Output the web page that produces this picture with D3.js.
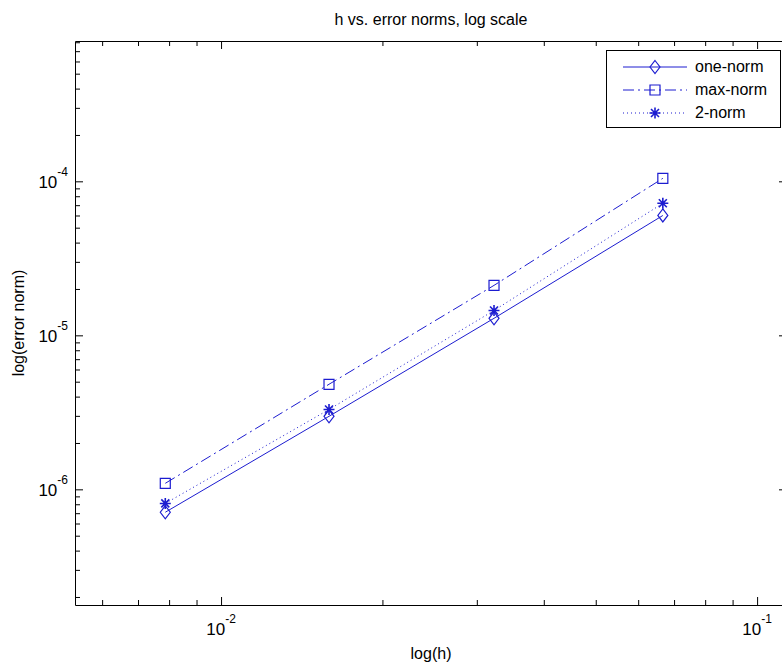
<!DOCTYPE html>
<html>
<head>
<meta charset="utf-8">
<script src="https://cdn.jsdelivr.net/npm/d3@7"></script>
<style>
  body { margin: 0; background: #fff; }
  text { font-family: "Liberation Sans", Arial, sans-serif; fill: #000; }
</style>
</head>
<body>
<div id="chart"></div>
<script>
// data
var hValues = [0.00787, 0.0159, 0.0323, 0.0667]
var oneNorm = [7.1e-7, 2.98e-6, 1.29e-5, 6.0e-5]
var maxNorm = [1.094e-6, 4.81e-6, 2.11e-5, 1.046e-4]
var twoNorm = [8.1e-7, 3.30e-6, 1.45e-5, 7.2e-5]
var seriesNames = ["one-norm", "max-norm", "2-norm"]
var xLimits = [5.34e-3, 0.1137]
var yLimits = [1.774e-7, 8.15e-4]

var width = 782,
    height = 664
// plot box edges (window.top is reserved, so use other names)
var boxL = 75, boxR = 787, boxT = 41, boxB = 605
var blue = "#1c1cd0"

var svg = d3.select("#chart")
  .append("svg")
    .attr("width", width)
    .attr("height", height)

var x = d3.scaleLog().domain(xLimits).range([boxL, boxR])
var y = d3.scaleLog().domain(yLimits).range([boxB, boxT])

var isMajor = d => Math.abs(Math.log10(d) - Math.round(Math.log10(d))) < 1e-9

// axes: ticks pointing inwards on all four sides
function styleAxis(g, horizontal, sign) {
  g.selectAll("text").remove()
  g.select(".domain").attr("stroke", "#000").attr("stroke-width", 1)
  g.selectAll(".tick line")
    .attr("stroke", "#000")
    .attr(horizontal ? "y2" : "x2", d => sign * (isMajor(d) ? 8 : 5))
}

svg.append("g").attr("transform", "translate(0," + boxB + ")")
  .call(d3.axisBottom(x).tickValues(x.ticks()).tickSizeOuter(0))
  .call(g => styleAxis(g, true, -1))
svg.append("g").attr("transform", "translate(0," + boxT + ")")
  .call(d3.axisTop(x).tickValues(x.ticks()).tickSizeOuter(0))
  .call(g => styleAxis(g, true, 1))
svg.append("g").attr("transform", "translate(" + boxL + ",0)")
  .call(d3.axisLeft(y).tickValues(y.ticks()).tickSizeOuter(0))
  .call(g => styleAxis(g, false, 1))
svg.append("g").attr("transform", "translate(" + boxR + ",0)")
  .call(d3.axisRight(y).tickValues(y.ticks()).tickSizeOuter(0))
  .call(g => styleAxis(g, false, -1))

// tick labels 10^n
var xMajors = x.ticks().filter(isMajor)
var xl = svg.selectAll(".xlab").data(xMajors).enter().append("text")
  .attr("class", "xlab")
  .attr("x", d => x(d))
  .attr("y", 635)
  .attr("text-anchor", "middle")
  .style("font-size", "17px")
xl.append("tspan").text("10")
xl.append("tspan").attr("dy", -12).style("font-size", "12px")
  .text(d => String(Math.round(Math.log10(d))))

var yMajors = y.ticks().filter(isMajor)
var yl = svg.selectAll(".ylab").data(yMajors).enter().append("text")
  .attr("class", "ylab")
  .attr("x", 68)
  .attr("y", d => y(d) + 7)
  .attr("text-anchor", "end")
  .style("font-size", "17px")
yl.append("tspan").text("10")
yl.append("tspan").attr("dy", -12).style("font-size", "12px")
  .text(d => String(Math.round(Math.log10(d))))

// titles
svg.append("text").attr("x", 431).attr("y", 25).attr("text-anchor", "middle")
  .style("font-size", "16px").text("h vs. error norms, log scale")
svg.append("text").attr("x", 431).attr("y", 659).attr("text-anchor", "middle")
  .style("font-size", "16px").text("log(h)")
svg.append("text").attr("transform", "translate(24," + ((boxT + boxB) / 2) + ") rotate(-90)")
  .attr("text-anchor", "middle")
  .style("font-size", "16px").text("log(error norm)")

// markers
var diamond = "M0,-6.5L5,0L0,6.5L-5,0Z"
var square = "M-5,-5H5V5H-5Z"
var star = "M0,-5.5V5.5M-5.5,0H5.5M-4,-4L4,4M-4,4L4,-4"
var series = [
  {name: seriesNames[0], values: oneNorm, dash: null, marker: diamond},
  {name: seriesNames[1], values: maxNorm, dash: "11,4,2,4", marker: square},
  {name: seriesNames[2], values: twoNorm, dash: "1,3", marker: star}
]

var line = d3.line().x(d => x(d[0])).y(d => y(d[1]))

series.forEach(function(s) {
  var pts = hValues.map((h, i) => [h, s.values[i]])
  svg.append("path")
    .attr("d", line(pts))
    .attr("fill", "none")
    .attr("stroke", blue)
    .attr("stroke-width", 1)
    .attr("stroke-dasharray", s.dash)
  svg.selectAll(null).data(pts).enter().append("path")
    .attr("d", s.marker)
    .attr("transform", d => "translate(" + x(d[0]) + "," + y(d[1]) + ")")
    .attr("fill", "none")
    .attr("stroke", blue)
    .attr("stroke-width", s.marker === star ? 1.6 : 1.2)
})

// legend
var lg = svg.append("g")
lg.append("rect")
  .attr("x", 606.5).attr("y", 50.5).attr("width", 174).attr("height", 77)
  .attr("fill", "#fff").attr("stroke", "#000")
series.forEach(function(s, i) {
  var ry = 67 + i * 23
  lg.append("line")
    .attr("x1", 623).attr("x2", 687).attr("y1", ry).attr("y2", ry)
    .attr("stroke", blue).attr("stroke-dasharray", s.dash)
  lg.append("path").attr("d", s.marker)
    .attr("transform", "translate(655," + ry + ")")
    .attr("fill", "none").attr("stroke", blue)
    .attr("stroke-width", s.marker === star ? 1.6 : 1.2)
  lg.append("text").attr("x", 695).attr("y", ry + 5)
    .style("font-size", "16px").text(s.name)
})
</script>
</body>
</html>
